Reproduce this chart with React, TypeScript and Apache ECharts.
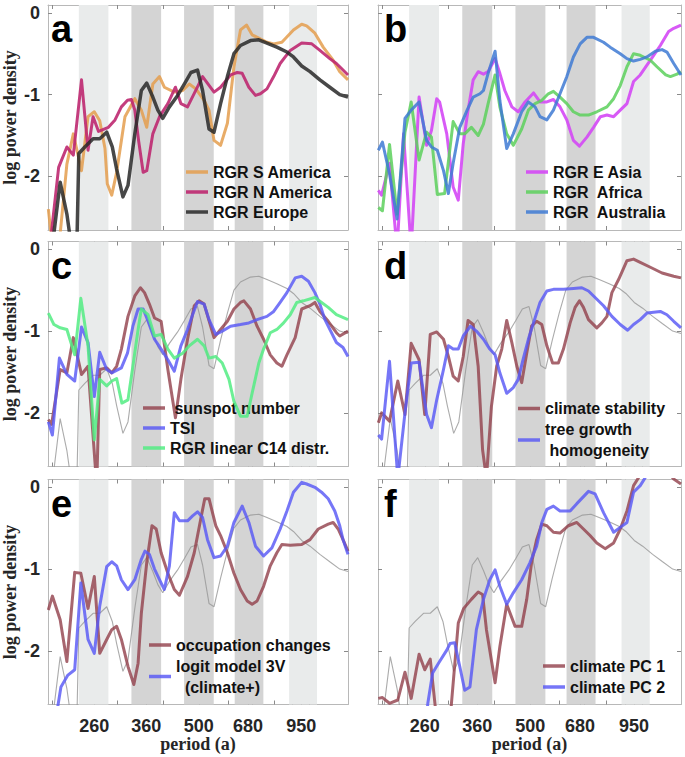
import React, { useEffect, useRef } from "react";
import * as echarts from "echarts";

// ---------------- data ----------------
const TICK_LABELS = [260, 360, 500, 680, 950];
const TICK_MARKS = [200, 260, 300, 360, 400, 500, 600, 680, 700, 800, 900, 950, 1000];
const Y_TICKS = [-2, -1, 0];
const PERIOD_MIN = 194.6;
const PERIOD_MAX = 1272;
const LOGP_MIN = -2.655;
const LOGP_MAX = 0.095;
const BANDS_LIGHT = [[236, 284], [880, 1048]];
const BANDS_DARK = [[328, 395], [456, 549], [626, 749]];
const PANEL_LETTERS = ["a", "b", "c", "d", "e", "f"];

// [period (a), log power density]
const S_AMERICA = [[195,-2.40],[200,-2.85],[210,-2.70],[219,-1.85],[228,-1.48],[240,-1.93],[250,-1.27],[260,-1.21],[269,-1.32],[278,-1.66],[282,-2.09],[290,-2.23],[299,-1.95],[315,-1.27],[335,-1.05],[349,-1.19],[361,-1.40],[375,-0.87],[391,-0.78],[403,-0.91],[429,-0.97],[452,-0.95],[471,-0.87],[491,-0.93],[517,-1.07],[533,-1.19],[550,-1.56],[573,-1.62],[598,-1.35],[623,-0.66],[649,-0.21],[674,-0.15],[698,-0.27],[728,-0.31],[766,-0.36],[799,-0.38],[841,-0.36],[904,-0.21],[952,-0.14],[982,-0.16],[1034,-0.25],[1089,-0.42],[1159,-0.58],[1208,-0.72],[1272,-0.82]];
const N_AMERICA = [[197,-2.85],[208,-1.89],[219,-1.64],[228,-1.74],[240,-0.82],[250,-1.68],[258,-1.27],[267,-1.45],[284,-1.40],[296,-1.31],[308,-1.15],[320,-1.07],[328,-1.06],[335,-1.19],[343,-1.56],[353,-1.95],[361,-1.93],[375,-1.48],[391,-1.27],[412,-1.11],[432,-0.91],[447,-1.11],[466,-1.15],[512,-0.78],[550,-0.97],[573,-0.91],[610,-0.76],[636,-0.73],[656,-0.74],[684,-0.91],[713,-1.01],[735,-0.99],[766,-0.93],[799,-0.78],[832,-0.62],[886,-0.46],[952,-0.37],[1014,-0.38],[1067,-0.46],[1135,-0.56],[1183,-0.62],[1233,-0.70],[1272,-0.76]];
const EUROPE = [[196,-2.95],[200,-2.85],[210,-2.07],[219,-2.46],[226,-2.9],[233,-2.9],[236,-1.72],[245,-1.64],[258,-1.54],[269,-1.54],[281,-1.46],[291,-1.64],[299,-1.91],[311,-2.25],[321,-2.11],[335,-1.48],[349,-0.95],[361,-0.86],[375,-1.03],[387,-1.19],[399,-1.29],[416,-1.15],[438,-1.01],[457,-0.87],[476,-0.73],[496,-0.70],[512,-0.95],[533,-1.42],[550,-1.46],[573,-1.11],[598,-0.78],[623,-0.50],[649,-0.40],[691,-0.34],[728,-0.33],[766,-0.37],[815,-0.42],[868,-0.48],[904,-0.54],[952,-0.65],[1003,-0.72],[1067,-0.82],[1135,-0.91],[1208,-1.00],[1272,-1.03]];
const E_ASIA = [[195,-2.17],[199,-2.23],[209,-1.84],[219,-2.9],[228,-1.48],[239,-2.9],[251,-1.03],[263,-1.62],[271,-1.44],[280,-1.05],[285,-1.09],[298,-1.48],[310,-2.13],[320,-2.29],[330,-1.60],[340,-1.19],[351,-0.82],[362,-0.72],[374,-0.75],[385,-0.72],[402,-0.56],[414,-0.74],[427,-0.95],[446,-1.15],[464,-1.21],[484,-1.09],[510,-0.98],[531,-1.09],[554,-1.09],[577,-1.06],[601,-1.15],[627,-1.31],[653,-1.56],[678,-1.63],[710,-1.52],[740,-1.40],[772,-1.27],[804,-1.25],[838,-1.27],[873,-1.19],[910,-1.11],[948,-0.84],[988,-0.76],[1030,-0.64],[1074,-0.52],[1119,-0.40],[1178,-0.23],[1216,-0.19],[1272,-0.15]];
const AFRICA = [[195,-2.38],[200,-2.42],[209,-1.61],[219,-2.46],[230,-1.46],[239,-1.09],[251,-1.80],[263,-1.46],[271,-1.52],[281,-2.22],[294,-2.21],[310,-1.33],[323,-1.48],[333,-1.48],[347,-1.40],[362,-1.50],[374,-1.36],[385,-1.11],[402,-0.76],[414,-1.15],[432,-1.48],[450,-1.62],[474,-1.42],[494,-1.19],[515,-1.11],[537,-1.07],[559,-0.99],[577,-0.96],[601,-1.03],[627,-1.11],[653,-1.21],[681,-1.25],[717,-1.25],[755,-1.21],[804,-1.15],[838,-1.05],[873,-0.89],[910,-0.66],[948,-0.50],[988,-0.52],[1052,-0.58],[1096,-0.66],[1157,-0.76],[1191,-0.78],[1241,-0.75],[1272,-0.72]];
const AUSTRALIA = [[195,-1.68],[200,-1.58],[209,-1.97],[219,-2.52],[230,-1.29],[239,-1.19],[251,-1.09],[263,-1.56],[271,-1.64],[281,-1.68],[292,-1.93],[301,-2.21],[310,-1.84],[323,-1.40],[338,-1.19],[351,-1.03],[366,-0.99],[374,-0.95],[385,-0.74],[402,-0.47],[414,-1.07],[432,-1.66],[450,-1.48],[474,-1.21],[494,-1.09],[515,-1.15],[531,-1.27],[554,-1.31],[577,-1.19],[601,-0.99],[627,-0.78],[653,-0.54],[681,-0.38],[710,-0.30],[740,-0.30],[787,-0.36],[820,-0.42],[873,-0.50],[910,-0.56],[948,-0.59],[988,-0.57],[1030,-0.54],[1085,-0.47],[1131,-0.45],[1166,-0.48],[1216,-0.62],[1272,-0.76]];
const SUNSPOT = [[195,-2.08],[199,-2.14],[210,-1.47],[219,-1.51],[228,-1.08],[240,-1.53],[250,-1.43],[264,-2.9],[269,-1.47],[281,-1.45],[290,-1.51],[299,-1.43],[308,-1.22],[321,-0.82],[335,-0.57],[347,-0.47],[356,-0.53],[367,-0.67],[379,-0.84],[395,-0.88],[412,-1.47],[432,-2.06],[447,-1.59],[466,-1.10],[486,-0.69],[501,-0.63],[517,-0.67],[550,-1.08],[573,-0.98],[598,-0.88],[623,-0.73],[649,-0.65],[663,-0.63],[691,-0.73],[720,-0.94],[750,-1.10],[782,-1.29],[815,-1.39],[841,-1.43],[868,-1.29],[914,-1.08],[952,-0.73],[1003,-0.69],[1034,-0.65],[1067,-0.76],[1124,-0.88],[1183,-1.02],[1208,-1.06],[1272,-1.00]];
const TSI = [[195,-2.11],[200,-2.27],[209,-1.33],[219,-1.53],[230,-1.61],[240,-0.95],[250,-1.14],[260,-1.80],[269,-1.26],[281,-1.47],[290,-1.51],[308,-1.45],[320,-1.27],[331,-0.94],[342,-0.73],[353,-0.73],[364,-0.88],[379,-1.10],[395,-1.22],[412,-1.35],[429,-1.49],[447,-1.18],[466,-0.98],[481,-0.80],[496,-0.64],[517,-0.67],[533,-0.86],[556,-1.04],[579,-1.00],[610,-0.94],[649,-0.92],[684,-0.90],[720,-0.86],[766,-0.82],[799,-0.76],[832,-0.65],[868,-0.53],[914,-0.35],[952,-0.33],[993,-0.39],[1034,-0.53],[1067,-0.67],[1101,-0.86],[1135,-0.98],[1183,-1.14],[1233,-1.20],[1272,-1.31]];
const RGR_C14 = [[195,-0.78],[202,-0.92],[210,-0.96],[219,-0.98],[230,-1.29],[239,-0.60],[250,-1.18],[260,-2.33],[269,-1.59],[281,-1.67],[290,-1.61],[299,-1.58],[309,-1.88],[321,-1.84],[331,-1.43],[342,-0.98],[349,-0.73],[364,-0.80],[379,-1.06],[395,-1.04],[412,-1.22],[429,-1.33],[452,-1.27],[471,-1.18],[496,-1.10],[517,-1.18],[533,-1.33],[556,-1.31],[579,-1.39],[604,-1.59],[623,-1.86],[649,-2.04],[677,-2.04],[698,-1.76],[728,-1.39],[750,-1.22],[782,-1.02],[815,-0.98],[850,-0.90],[886,-0.80],[923,-0.65],[962,-0.63],[1034,-0.59],[1078,-0.65],[1124,-0.71],[1183,-0.80],[1272,-0.86]];
const CLIMATE_STABILITY = [[195,-2.12],[199,-2.00],[209,-2.10],[220,-1.61],[230,-2.02],[239,-1.15],[251,-1.35],[260,-2.02],[269,-1.04],[280,-1.01],[292,-1.10],[301,-1.31],[310,-1.55],[320,-1.61],[330,-1.31],[340,-0.87],[351,-0.92],[362,-1.43],[372,-2.45],[381,-2.80],[393,-1.92],[406,-1.43],[419,-1.22],[432,-0.87],[446,-1.14],[460,-1.43],[474,-1.63],[489,-1.27],[504,-0.94],[520,-0.88],[537,-0.92],[554,-1.18],[574,-1.39],[595,-1.39],[614,-1.22],[640,-0.90],[660,-0.71],[678,-0.63],[695,-0.71],[717,-0.86],[755,-0.96],[779,-0.90],[804,-0.82],[829,-0.53],[864,-0.37],[910,-0.14],[948,-0.12],[988,-0.16],[1052,-0.22],[1131,-0.29],[1216,-0.33],[1272,-0.35]];
const TREE_GROWTH = [[195,-2.27],[199,-2.32],[209,-1.37],[220,-2.80],[230,-2.00],[239,-1.39],[251,-1.38],[263,-2.02],[271,-2.18],[280,-1.84],[292,-1.47],[301,-1.18],[310,-1.22],[320,-1.22],[330,-1.06],[345,-0.94],[358,-1.00],[374,-1.10],[389,-1.22],[402,-1.29],[414,-1.51],[432,-1.76],[450,-1.69],[464,-1.59],[478,-1.35],[494,-1.10],[510,-0.90],[531,-0.65],[554,-0.51],[577,-0.49],[614,-0.49],[653,-0.48],[688,-0.47],[717,-0.51],[747,-0.59],[787,-0.69],[829,-0.82],[873,-0.92],[914,-0.99],[948,-0.92],[988,-0.86],[1030,-0.78],[1074,-0.77],[1119,-0.76],[1166,-0.80],[1216,-0.88],[1272,-0.96]];
const OCCUPATION = [[195,-1.50],[200,-1.33],[210,-1.62],[219,-2.13],[230,-1.04],[239,-1.05],[250,-1.48],[260,-1.09],[269,-2.03],[281,-1.86],[290,-1.74],[299,-1.70],[308,-1.86],[321,-2.19],[333,-2.41],[342,-2.15],[349,-1.54],[361,-0.92],[373,-0.47],[383,-0.51],[395,-0.80],[412,-1.05],[429,-1.25],[443,-1.32],[466,-1.09],[486,-0.80],[506,-0.39],[519,-0.14],[533,-0.14],[556,-0.47],[573,-0.59],[598,-0.80],[623,-1.05],[649,-1.25],[677,-1.39],[698,-1.43],[720,-1.39],[750,-1.21],[782,-0.96],[815,-0.80],[841,-0.70],[886,-0.71],[952,-0.70],[1003,-0.64],[1056,-0.51],[1124,-0.45],[1159,-0.43],[1196,-0.51],[1233,-0.64],[1272,-0.78]];
const LOGIT_3V = [[204,-2.85],[211,-2.44],[220,-2.30],[230,-2.23],[239,-1.17],[250,-1.86],[260,-2.03],[269,-1.45],[281,-0.97],[290,-0.91],[299,-0.96],[308,-1.13],[321,-1.25],[335,-1.13],[349,-0.88],[357,-0.78],[367,-0.82],[379,-1.00],[391,-1.13],[403,-1.25],[416,-0.96],[429,-0.31],[443,-0.41],[466,-0.41],[481,-0.35],[496,-0.30],[512,-0.37],[528,-0.64],[550,-0.86],[573,-0.84],[598,-0.72],[623,-0.43],[656,-0.23],[684,-0.43],[713,-0.72],[750,-0.84],[790,-0.74],[832,-0.51],[868,-0.29],[904,-0.06],[952,0.06],[982,0.04],[1034,0.00],[1078,-0.06],[1124,-0.14],[1171,-0.29],[1208,-0.47],[1233,-0.64],[1272,-0.82]];
const CLIMATE_PC1 = [[195,-2.58],[200,-2.57],[209,-2.64],[220,-2.60],[230,-2.26],[239,-2.58],[251,-2.04],[260,-2.23],[269,-2.10],[280,-2.85],[304,-2.85],[320,-1.66],[331,-1.48],[347,-1.37],[362,-1.28],[372,-1.31],[381,-1.74],[402,-2.39],[414,-1.95],[432,-1.43],[455,-1.70],[474,-1.70],[489,-1.37],[504,-0.92],[520,-0.64],[537,-0.45],[554,-0.47],[577,-0.55],[601,-0.56],[633,-0.47],[667,-0.43],[695,-0.51],[724,-0.59],[755,-0.68],[795,-0.75],[838,-0.68],[873,-0.51],[910,-0.29],[948,0.02],[988,0.15],[1096,0.25],[1191,0.15],[1216,0.10],[1272,0.04]];
const CLIMATE_PC2 = [[260,-3.0],[265,-2.64],[273,-2.27],[285,-2.13],[298,-1.99],[304,-1.91],[313,-1.90],[323,-2.19],[333,-2.48],[344,-2.44],[358,-1.74],[374,-1.37],[389,-1.13],[402,-1.01],[414,-1.21],[432,-1.43],[450,-1.29],[474,-1.13],[499,-0.92],[520,-0.72],[537,-0.43],[554,-0.27],[577,-0.23],[601,-0.29],[640,-0.29],[667,-0.20],[717,-0.05],[747,-0.08],[787,-0.31],[838,-0.55],[873,-0.49],[910,-0.43],[948,-0.06],[988,0.02],[1020,0.12]];

// ---------------- styles ----------------
const SANS = "'Liberation Sans', Arial, Helvetica, sans-serif";
const SERIF = "'Liberation Serif', 'Times New Roman', serif";
const COL = {
  orange: "rgba(228,158,78,0.85)",
  magenta: "rgba(190,40,112,0.9)",
  dark: "rgba(40,40,40,0.85)",
  violet: "rgba(212,72,245,0.9)",
  green: "rgba(92,208,92,0.85)",
  steel: "rgba(62,122,212,0.85)",
  brown: "rgba(145,62,74,0.8)",
  blue: "rgba(88,88,245,0.82)",
  mint: "rgba(82,236,130,0.85)",
  ref: "rgba(150,150,150,0.8)",
  bandLight: "#e9ebeb",
  bandDark: "#d4d4d4",
  axis: "#b8b8b8",
  tick: "#8a8a8a",
  text: "#262626",
};

const GRIDS = [
  { left: 46, top: 5, width: 302, height: 225 },
  { left: 378, top: 5, width: 303, height: 225 },
  { left: 46, top: 241.5, width: 302, height: 225 },
  { left: 378, top: 241.5, width: 303, height: 225 },
  { left: 46, top: 479.5, width: 302, height: 225 },
  { left: 378, top: 479.5, width: 303, height: 225 },
];

type S = { name: string; data: number[][]; color: string; width: number };
const PANELS: { series: S[]; withRef: boolean; legend: { left: number; top: number; lh: number } }[] = [
  {
    withRef: false,
    series: [
      { name: "RGR S America", data: S_AMERICA, color: COL.orange, width: 3 },
      { name: "RGR N America", data: N_AMERICA, color: COL.magenta, width: 3 },
      { name: "RGR Europe", data: EUROPE, color: COL.dark, width: 3.5 },
    ],
    legend: { left: 186, top: 162, lh: 20 },
  },
  {
    withRef: false,
    series: [
      { name: "RGR E Asia", data: E_ASIA, color: COL.violet, width: 3 },
      { name: "RGR  Africa", data: AFRICA, color: COL.green, width: 3 },
      { name: "RGR  Australia", data: AUSTRALIA, color: COL.steel, width: 3 },
    ],
    legend: { left: 526, top: 162, lh: 20 },
  },
  {
    withRef: true,
    series: [
      { name: " sunspot number", data: SUNSPOT, color: COL.brown, width: 3 },
      { name: "TSI", data: TSI, color: COL.blue, width: 3 },
      { name: "RGR linear C14 distr.", data: RGR_C14, color: COL.mint, width: 3 },
    ],
    legend: { left: 143, top: 398, lh: 20 },
  },
  {
    withRef: true,
    series: [
      { name: "climate stability", data: CLIMATE_STABILITY, color: COL.brown, width: 3 },
      { name: "tree growth\n homogeneity", data: TREE_GROWTH, color: COL.blue, width: 3 },
    ],
    legend: { left: 518, top: 398, lh: 21 },
  },
  {
    withRef: true,
    series: [
      { name: "occupation changes", data: OCCUPATION, color: COL.brown, width: 3 },
      { name: "logit model 3V\n  (climate+)", data: LOGIT_3V, color: COL.blue, width: 3 },
    ],
    legend: { left: 149, top: 634.5, lh: 21 },
  },
  {
    withRef: true,
    series: [
      { name: "climate PC 1", data: CLIMATE_PC1, color: COL.brown, width: 3 },
      { name: "climate PC 2", data: CLIMATE_PC2, color: COL.blue, width: 3 },
    ],
    legend: { left: 543, top: 655.5, lh: 21 },
  },
];

const toLog = (d: number[][]) => d.map(([p, v]) => [Math.log(p), v]);

function buildOption() {
  const xAxis: any[] = [];
  const yAxis: any[] = [];
  const series: any[] = [];
  const legend: any[] = [];
  const graphic: any[] = [];

  GRIDS.forEach((g, i) => {
    const isLeft = i % 2 === 0;
    const isBottom = i >= 4;
    const tickCommon = {
      show: true,
      inside: true,
      length: 4,
      lineStyle: { color: COL.tick, width: 1 },
    };
    ["bottom", "top"].forEach((pos) => {
      xAxis.push({
        type: "value",
        gridIndex: i,
        position: pos,
        min: Math.log(PERIOD_MIN),
        max: Math.log(PERIOD_MAX),
        axisLine: { show: true, onZero: false, lineStyle: { color: COL.axis, width: 1 } },
        axisTick: { ...tickCommon, customValues: TICK_MARKS.map((t) => Math.log(t)) },
        axisLabel: {
          show: pos === "bottom" && isBottom,
          customValues: TICK_LABELS.map((t) => Math.log(t)),
          formatter: (v: number) => String(Math.round(Math.exp(v))),
          fontSize: 18,
          fontWeight: "bold",
          fontFamily: SANS,
          color: COL.text,
          margin: 12,
        },
        splitLine: { show: false },
        name: pos === "bottom" && isBottom ? "period (a)" : "",
        nameLocation: "middle",
        nameGap: 30,
        nameTextStyle: { fontFamily: SERIF, fontWeight: "bold", fontSize: 18, color: COL.text },
      });
    });
    ["left", "right"].forEach((pos) => {
      yAxis.push({
        type: "value",
        gridIndex: i,
        position: pos,
        min: LOGP_MIN,
        max: LOGP_MAX,
        axisLine: { show: true, onZero: false, lineStyle: { color: COL.axis, width: 1 } },
        axisTick: { ...tickCommon, customValues: Y_TICKS },
        axisLabel: {
          show: pos === "left" && isLeft,
          customValues: Y_TICKS,
          formatter: (v: number) => String(Math.round(v)),
          fontSize: 18,
          fontWeight: "bold",
          fontFamily: SANS,
          color: COL.text,
          margin: 8,
        },
        splitLine: { show: false },
        name: pos === "left" && isLeft ? "log power density" : "",
        nameLocation: "middle",
        nameGap: 29,
        nameTextStyle: { fontFamily: SERIF, fontWeight: "bold", fontSize: 18, color: COL.text },
      });
    });

    // shaded period bands
    series.push({
      type: "line",
      name: `bands-${i}`,
      xAxisIndex: 2 * i,
      yAxisIndex: 2 * i,
      data: [],
      silent: true,
      z: 1,
      markArea: {
        silent: true,
        label: { show: false },
        data: [
          ...BANDS_LIGHT.map(([a, b]) => [
            { xAxis: Math.log(a), itemStyle: { color: COL.bandLight } },
            { xAxis: Math.log(b) },
          ]),
          ...BANDS_DARK.map(([a, b]) => [
            { xAxis: Math.log(a), itemStyle: { color: COL.bandDark } },
            { xAxis: Math.log(b) },
          ]),
        ],
      },
    });

    const panel = PANELS[i];
    if (panel.withRef) {
      series.push({
        type: "line",
        name: `RGR Europe (reference ${PANEL_LETTERS[i]})`,
        xAxisIndex: 2 * i,
        yAxisIndex: 2 * i,
        data: toLog(EUROPE),
        symbol: "none",
        silent: true,
        z: 2,
        lineStyle: { color: COL.ref, width: 1.1 },
        itemStyle: { color: COL.ref },
      });
    }
    panel.series.forEach((s, k) => {
      series.push({
        type: "line",
        name: s.name,
        xAxisIndex: 2 * i,
        yAxisIndex: 2 * i,
        data: toLog(s.data),
        symbol: "none",
        silent: true,
        z: 3 + k,
        clip: true,
        lineStyle: { color: s.color, width: s.width, join: "round" },
        itemStyle: { color: s.color },
      });
    });

    legend.push({
      orient: "vertical",
      left: panel.legend.left,
      top: panel.legend.top,
      padding: 0,
      itemGap: 0,
      itemWidth: 22,
      itemHeight: 3.5,
      icon: "rect",
      selectedMode: false,
      data: panel.series.map((s) => s.name),
      itemStyle: { borderWidth: 0 },
      textStyle: {
        fontFamily: SANS,
        fontWeight: "bold",
        fontSize: 16,
        color: "#111",
        lineHeight: panel.legend.lh,
      },
    });

    graphic.push({
      type: "text",
      x: isLeft ? 51 : 384,
      y: g.top + 24,
      silent: true,
      style: {
        text: PANEL_LETTERS[i],
        fontSize: 38,
        fontWeight: "bold",
        fontFamily: SANS,
        fill: "#000",
        align: "left",
        verticalAlign: "middle",
        textAlign: "left",
        textVerticalAlign: "middle",
      },
    });
  });

  return {
    animation: false,
    backgroundColor: "#ffffff",
    grid: GRIDS.map((g) => ({ ...g, containLabel: false })),
    xAxis,
    yAxis,
    series,
    legend,
    graphic,
  };
}

export default function App() {
  const ref = useRef<HTMLDivElement>(null);
  useEffect(() => {
    if (!ref.current) return;
    const chart = echarts.init(ref.current, undefined, { renderer: "svg" });
    chart.setOption(buildOption() as any);
    return () => chart.dispose();
  }, []);
  return (
    <div
      ref={ref}
      style={{ position: "absolute", left: 0, top: 0, width: 685, height: 757, background: "#fff" }}
    />
  );
}
